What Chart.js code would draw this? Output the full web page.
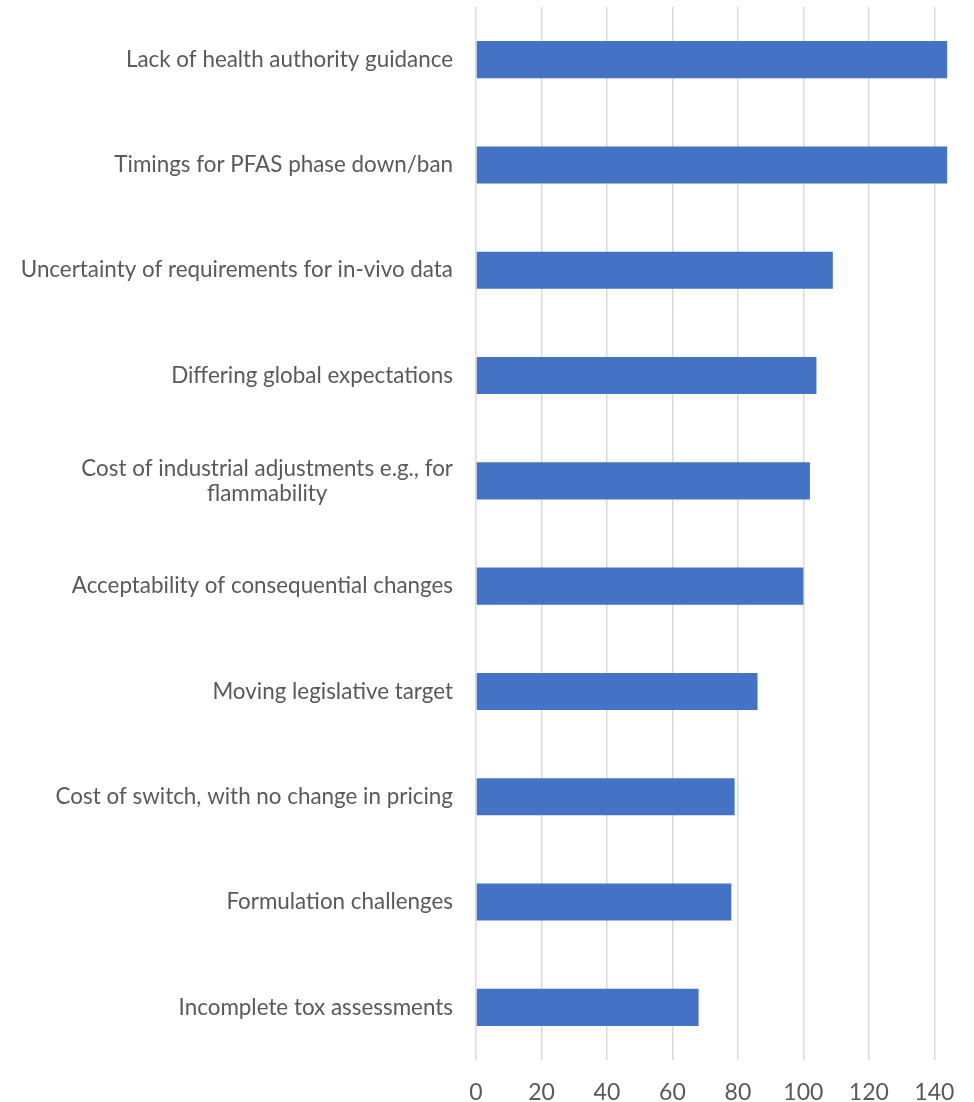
<!DOCTYPE html>
<html>
<head>
<meta charset="utf-8">
<title>Barriers to PFAS transition</title>
<script src="https://cdn.jsdelivr.net/npm/chart.js@4/dist/chart.umd.min.js"></script>
<style>
  html, body { margin: 0; padding: 0; background: #fff; }
  #wrap { width: 974px; height: 1102px; }
</style>
</head>
<body>
<div id="wrap"><canvas id="barChart" width="974" height="1102"></canvas></div>
<script>
// Ranked list, top to bottom
const categories = [
    "Lack of health authority guidance",
    "Timings for PFAS phase down/ban",
    "Uncertainty of requirements for in-vivo data",
    "Differing global expectations",
    ["Cost of industrial adjustments e.g., for", "flammability"],
    "Acceptability of consequential changes",
    "Moving legislative target",
    "Cost of switch, with no change in pricing",
    "Formulation challenges",
    "Incomplete tox assessments"
];
const counts = [144, 144, 109, 104, 102, 100, 86, 79, 78, 68];
const xTicks = [0, 20, 40, 60, 80, 100, 120, 140];

const FONT = "Lato, 'Liberation Sans', sans-serif";
const TEXT_COLOR = "#595959";

/**
 * Category labels: right-aligned block, wrapped lines centred like the office chart
 */
const categoryLabels = {
    id: "categoryLabels",
    afterDraw(chart) {
        const y = chart.scales.y;
        const ctx = chart.ctx;
        const right = chart.chartArea.left - 23;
        const lineH = 25;
        ctx.save();
        ctx.font = "22.4px " + FONT;
        ctx.fillStyle = TEXT_COLOR;
        ctx.textBaseline = "middle";
        ctx.textAlign = "center";
        categories.forEach((label, i) => {
            const lines = Array.isArray(label) ? label : [label];
            const w = Math.max(...lines.map(l => ctx.measureText(l).width));
            const cx = right - w / 2;
            const cy = y.getPixelForValue(i);
            const top = cy - (lines.length - 1) * lineH / 2;
            lines.forEach((l, k) => ctx.fillText(l, cx, top + k * lineH));
        });
        ctx.restore();
    }
};

window.myBarChart = new Chart(document.getElementById("barChart"), {
    type: "bar",
    data: {
        labels: categories,
        datasets: [{
            data: counts,
            backgroundColor: "#4472C4",
            borderWidth: 0,
            barPercentage: 0.352,
            categoryPercentage: 1
        }]
    },
    options: {
        indexAxis: "y",
        responsive: false,
        animation: false,
        layout: { padding: { top: 7, right: 25, bottom: 0, left: 0 } },
        plugins: { legend: { display: false }, tooltip: { enabled: false } },
        scales: {
            x: {
                min: 0,
                max: 144,
                afterBuildTicks: scale => { scale.ticks = xTicks.map(v => ({ value: v })); },
                afterFit: scale => { scale.height = 42; },
                grid: { color: "#d9d9d9", lineWidth: 1.5, drawTicks: false },
                border: { display: false },
                ticks: {
                    color: TEXT_COLOR,
                    font: { family: FONT, size: 23 },
                    padding: 19,
                    maxRotation: 0
                }
            },
            y: {
                afterFit: scale => { scale.width = 476; },
                grid: { display: false },
                border: { display: false },
                ticks: { display: false }
            }
        }
    },
    plugins: [categoryLabels]
});
</script>
</body>
</html>
